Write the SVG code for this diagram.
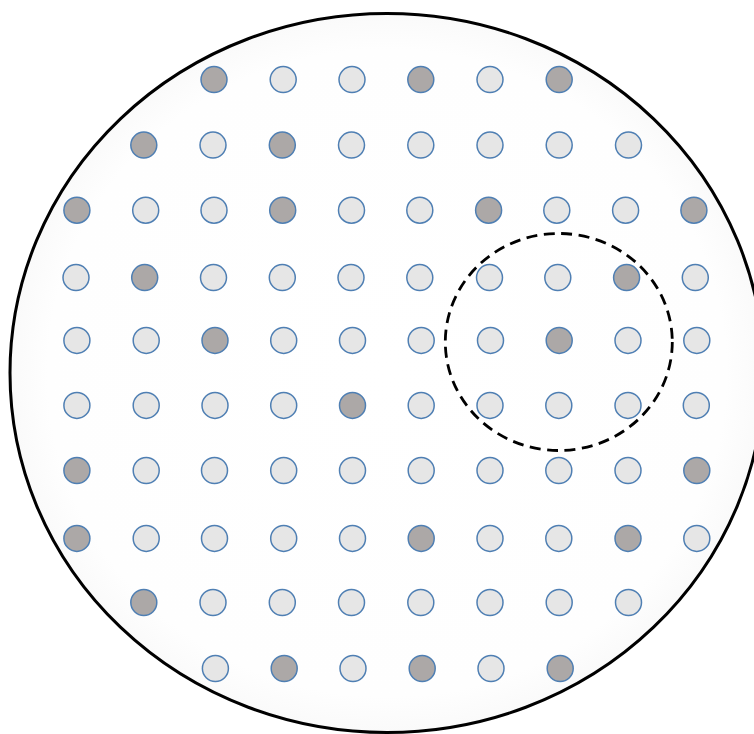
<svg xmlns="http://www.w3.org/2000/svg" width="754" height="734" viewBox="0 0 754 734">
<defs>
<radialGradient id="bg" cx="0.5" cy="0.5" r="0.5">
<stop offset="0" stop-color="#ffffff"/>
<stop offset="0.9" stop-color="#fefefe"/>
<stop offset="1" stop-color="#fafafa"/>
</radialGradient>
</defs>
<style>
.l{fill:#e6e6e6;stroke:#4f7fb3;stroke-width:1.5}
.d{fill:#aca8a7;stroke:#4f7fb3;stroke-width:1.5}
</style>
<rect width="754" height="734" fill="#ffffff"/>
<ellipse id="outer" cx="387" cy="373" rx="377" ry="359.5" fill="url(#bg)" stroke="#000" stroke-width="3"/>
<g id="row1">
<circle class="d" cx="214" cy="79.6" r="13"/>
<circle class="l" cx="283.2" cy="79.6" r="13"/>
<circle class="l" cx="352" cy="79.6" r="13"/>
<circle class="d" cx="420.8" cy="79.6" r="13"/>
<circle class="l" cx="490" cy="79.6" r="13"/>
<circle class="d" cx="559.2" cy="79.6" r="13"/>
</g>
<g id="row2">
<circle class="d" cx="143.8" cy="145.1" r="13"/>
<circle class="l" cx="213" cy="145.1" r="13"/>
<circle class="d" cx="282.3" cy="145.1" r="13"/>
<circle class="l" cx="351.5" cy="145.1" r="13"/>
<circle class="l" cx="420.8" cy="145.1" r="13"/>
<circle class="l" cx="490" cy="145.1" r="13"/>
<circle class="l" cx="559.2" cy="145.1" r="13"/>
<circle class="l" cx="628.5" cy="145.1" r="13"/>
</g>
<g id="row3">
<circle class="d" cx="76.9" cy="210.2" r="13"/>
<circle class="l" cx="145.7" cy="210.2" r="13"/>
<circle class="l" cx="214" cy="210.2" r="13"/>
<circle class="d" cx="282.7" cy="210.2" r="13"/>
<circle class="l" cx="351.5" cy="210.2" r="13"/>
<circle class="l" cx="419.8" cy="210.2" r="13"/>
<circle class="d" cx="488.6" cy="210.2" r="13"/>
<circle class="l" cx="556.8" cy="210.2" r="13"/>
<circle class="l" cx="625.6" cy="210.2" r="13"/>
<circle class="d" cx="693.9" cy="210.2" r="13"/>
</g>
<g id="row4">
<circle class="l" cx="76" cy="277.6" r="13"/>
<circle class="d" cx="144.7" cy="277.6" r="13"/>
<circle class="l" cx="213.5" cy="277.6" r="13"/>
<circle class="l" cx="282.3" cy="277.6" r="13"/>
<circle class="l" cx="351" cy="277.6" r="13"/>
<circle class="l" cx="419.8" cy="277.6" r="13"/>
<circle class="l" cx="489.5" cy="277.6" r="13"/>
<circle class="l" cx="557.8" cy="277.6" r="13"/>
<circle class="d" cx="626.6" cy="277.6" r="13"/>
<circle class="l" cx="695.3" cy="277.6" r="13"/>
</g>
<g id="row5">
<circle class="l" cx="76.9" cy="340.4" r="13"/>
<circle class="l" cx="146.2" cy="340.4" r="13"/>
<circle class="d" cx="215" cy="340.4" r="13"/>
<circle class="l" cx="283.7" cy="340.4" r="13"/>
<circle class="l" cx="352.5" cy="340.4" r="13"/>
<circle class="l" cx="421.2" cy="340.4" r="13"/>
<circle class="l" cx="490.5" cy="340.4" r="13"/>
<circle class="d" cx="559.2" cy="340.4" r="13"/>
<circle class="l" cx="628" cy="340.4" r="13"/>
<circle class="l" cx="696.8" cy="340.4" r="13"/>
</g>
<g id="row6">
<circle class="l" cx="76.9" cy="405.4" r="13"/>
<circle class="l" cx="146.2" cy="405.4" r="13"/>
<circle class="l" cx="215" cy="405.4" r="13"/>
<circle class="l" cx="283.7" cy="405.4" r="13"/>
<circle class="d" cx="352.5" cy="405.4" r="13"/>
<circle class="l" cx="421.2" cy="405.4" r="13"/>
<circle class="l" cx="490" cy="405.4" r="13"/>
<circle class="l" cx="558.8" cy="405.4" r="13"/>
<circle class="l" cx="628" cy="405.4" r="13"/>
<circle class="l" cx="696.3" cy="405.4" r="13"/>
</g>
<g id="row7">
<circle class="d" cx="76.9" cy="470.5" r="13"/>
<circle class="l" cx="146.2" cy="470.5" r="13"/>
<circle class="l" cx="214.5" cy="470.5" r="13"/>
<circle class="l" cx="283.7" cy="470.5" r="13"/>
<circle class="l" cx="352.5" cy="470.5" r="13"/>
<circle class="l" cx="421.2" cy="470.5" r="13"/>
<circle class="l" cx="490" cy="470.5" r="13"/>
<circle class="l" cx="558.8" cy="470.5" r="13"/>
<circle class="l" cx="628" cy="470.5" r="13"/>
<circle class="d" cx="696.8" cy="470.5" r="13"/>
</g>
<g id="row8">
<circle class="d" cx="76.9" cy="538.4" r="13"/>
<circle class="l" cx="146.2" cy="538.4" r="13"/>
<circle class="l" cx="214.5" cy="538.4" r="13"/>
<circle class="l" cx="283.7" cy="538.4" r="13"/>
<circle class="l" cx="352.5" cy="538.4" r="13"/>
<circle class="d" cx="421.2" cy="538.4" r="13"/>
<circle class="l" cx="490" cy="538.4" r="13"/>
<circle class="l" cx="558.8" cy="538.4" r="13"/>
<circle class="d" cx="628" cy="538.4" r="13"/>
<circle class="l" cx="696.8" cy="538.4" r="13"/>
</g>
<g id="row9">
<circle class="d" cx="143.8" cy="602.5" r="13"/>
<circle class="l" cx="213" cy="602.5" r="13"/>
<circle class="l" cx="282.3" cy="602.5" r="13"/>
<circle class="l" cx="351.5" cy="602.5" r="13"/>
<circle class="l" cx="420.8" cy="602.5" r="13"/>
<circle class="l" cx="490" cy="602.5" r="13"/>
<circle class="l" cx="559.2" cy="602.5" r="13"/>
<circle class="l" cx="628.5" cy="602.5" r="13"/>
</g>
<g id="row10">
<circle class="l" cx="215.4" cy="668.5" r="13"/>
<circle class="d" cx="284.2" cy="668.5" r="13"/>
<circle class="l" cx="353" cy="668.5" r="13"/>
<circle class="d" cx="422.2" cy="668.5" r="13"/>
<circle class="l" cx="491" cy="668.5" r="13"/>
<circle class="d" cx="560.2" cy="668.5" r="13"/>
</g>
<ellipse id="highlight" cx="558.8" cy="342" rx="113.5" ry="108.5" fill="none" stroke="#000" stroke-width="2.8" stroke-dasharray="11 6.5"/>
</svg>
